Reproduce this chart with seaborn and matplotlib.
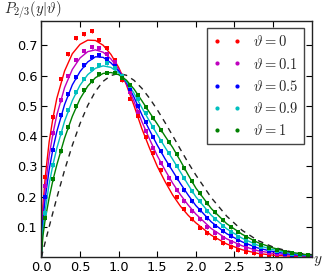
import matplotlib
matplotlib.use("Agg")
import matplotlib.pyplot as plt
import seaborn as sns
import pandas as pd
from matplotlib.lines import Line2D

# ---------------- data ----------------
theta_labels = ["0", "0.1", "0.5", "0.9", "1"]

y_grid = [0, 0.02, 0.05, 0.1, 0.15, 0.2, 0.3, 0.4, 0.5, 0.6, 0.7, 0.8, 0.9, 1.0,
          1.1, 1.2, 1.3, 1.4, 1.5, 1.6, 1.7, 1.8, 1.9, 2.0, 2.2, 2.4, 2.6, 2.8,
          3.0, 3.2, 3.4, 3.5]

curve_t0 = [0, 0.17, 0.265, 0.38, 0.46, 0.525, 0.615, 0.672, 0.703, 0.717, 0.716,
            0.70, 0.67, 0.627, 0.57, 0.50, 0.425, 0.36, 0.30, 0.25, 0.205, 0.168,
            0.138, 0.113, 0.072, 0.043, 0.024, 0.012, 0.006, 0.003, 0.001, 0.001]
curve_t01 = [0, 0.145, 0.23, 0.334, 0.409, 0.47, 0.56, 0.62, 0.658, 0.679, 0.685,
             0.677, 0.655, 0.621, 0.574, 0.514, 0.448, 0.39, 0.335, 0.288, 0.244,
             0.206, 0.172, 0.142, 0.094, 0.06, 0.037, 0.021, 0.012, 0.007, 0.003, 0.003]
curve_t05 = [0, 0.12, 0.195, 0.288, 0.358, 0.415, 0.504, 0.569, 0.613, 0.645, 0.662,
             0.66, 0.642, 0.615, 0.578, 0.528, 0.471, 0.419, 0.37, 0.325, 0.284,
             0.243, 0.205, 0.17, 0.116, 0.077, 0.05, 0.03, 0.018, 0.01, 0.005, 0.004]
curve_t09 = [0, 0.095, 0.155, 0.241, 0.306, 0.36, 0.449, 0.517, 0.568, 0.603, 0.624,
             0.632, 0.627, 0.609, 0.581, 0.541, 0.494, 0.449, 0.405, 0.363, 0.323,
             0.281, 0.239, 0.199, 0.138, 0.093, 0.062, 0.039, 0.024, 0.014, 0.007, 0.006]
curve_t1 = [0, 0.07, 0.125, 0.195, 0.255, 0.305, 0.393, 0.465, 0.523, 0.565, 0.593,
            0.607, 0.61, 0.603, 0.585, 0.555, 0.517, 0.478, 0.44, 0.40, 0.362,
            0.318, 0.272, 0.228, 0.16, 0.11, 0.075, 0.048, 0.03, 0.017, 0.009, 0.007]
curve_ref = [0, 0.02, 0.05, 0.0995, 0.148, 0.196, 0.287, 0.369, 0.441, 0.501, 0.548,
             0.581, 0.600, 0.607, 0.601, 0.584, 0.558, 0.525, 0.487, 0.445, 0.401,
             0.356, 0.312, 0.271, 0.196, 0.135, 0.088, 0.055, 0.033, 0.019, 0.010, 0.008]

y_bins = [0.05, 0.15, 0.25, 0.35, 0.45, 0.55, 0.65, 0.75, 0.85, 0.95, 1.05, 1.15,
          1.25, 1.35, 1.45, 1.55, 1.65, 1.75, 1.85, 1.95, 2.05, 2.15, 2.25, 2.35,
          2.45, 2.55, 2.65, 2.75, 2.85, 2.95, 3.05, 3.15, 3.25, 3.35, 3.45]

pts_t0 = [0.265, 0.463, 0.587, 0.672, 0.725, 0.738, 0.746, 0.716, 0.69, 0.65,
          0.585, 0.524, 0.465, 0.397, 0.345, 0.287, 0.24, 0.199, 0.16, 0.125,
          0.097, 0.08, 0.062, 0.045, 0.033, 0.024, 0.017, 0.012, 0.008, 0.006,
          0.004, 0.003, 0.002, 0.001, 0.001]
pts_t01 = [0.235, 0.41, 0.52, 0.6, 0.65, 0.68, 0.695, 0.69, 0.67, 0.645,
           0.60, 0.545, 0.48, 0.415, 0.36, 0.31, 0.262, 0.222, 0.185, 0.152,
           0.125, 0.1, 0.08, 0.064, 0.05, 0.04, 0.031, 0.023, 0.017, 0.013,
           0.01, 0.007, 0.005, 0.004, 0.003]
pts_t05 = [0.2, 0.355, 0.469, 0.54, 0.595, 0.635, 0.66, 0.668, 0.655, 0.63,
           0.598, 0.555, 0.5, 0.448, 0.398, 0.35, 0.305, 0.262, 0.222, 0.185,
           0.155, 0.128, 0.104, 0.085, 0.068, 0.055, 0.043, 0.034, 0.026, 0.02,
           0.015, 0.011, 0.008, 0.006, 0.004]
pts_t09 = [0.144, 0.305, 0.41, 0.485, 0.545, 0.59, 0.62, 0.635, 0.64, 0.625,
           0.598, 0.565, 0.522, 0.475, 0.43, 0.385, 0.345, 0.302, 0.26, 0.218,
           0.185, 0.152, 0.125, 0.102, 0.083, 0.067, 0.054, 0.042, 0.033, 0.026,
           0.02, 0.015, 0.011, 0.008, 0.006]
pts_t1 = [0.128, 0.257, 0.35, 0.43, 0.498, 0.551, 0.581, 0.606, 0.61, 0.61,
          0.593, 0.57, 0.535, 0.495, 0.46, 0.42, 0.38, 0.34, 0.295, 0.25,
          0.21, 0.178, 0.148, 0.122, 0.1, 0.084, 0.067, 0.052, 0.041, 0.031,
          0.024, 0.018, 0.013, 0.01, 0.007]

curves = [curve_t0, curve_t01, curve_t05, curve_t09, curve_t1]
points = [pts_t0, pts_t01, pts_t05, pts_t09, pts_t1]
err = 0.006

# ---------------- style ----------------
colors = ["#ff0000", "#bf00bf", "#0000ff", "#00bfbf", "#008000"]

sns.set_style("ticks")
plt.rcParams.update({
    "font.family": ["DejaVu Sans"],
    "mathtext.fontset": "cm",
    "xtick.direction": "in",
    "ytick.direction": "in",
    "xtick.top": True,
    "ytick.right": True,
    "xtick.major.size": 4,
    "ytick.major.size": 4,
    "axes.edgecolor": "#222222",
    "axes.linewidth": 1.0,
})

fig = plt.figure(figsize=(3.27, 2.74), dpi=100)
ax = fig.add_axes([0.1266, 0.062, 0.8266, 0.861])

rows = []
for lab, c in zip(theta_labels, curves):
    for x, v in zip(y_grid, c):
        rows.append({"y": x, "P": v, "theta": lab})
df = pd.DataFrame(rows)

sns.lineplot(data=df, x="y", y="P", hue="theta", palette=colors,
             estimator=None, sort=False, linewidth=1.0, legend=False, ax=ax)
sns.lineplot(x=y_grid, y=curve_ref, color="#222222", linewidth=1.0,
             dashes=False, ax=ax, legend=False)
ax.lines[-1].set_dashes((4, 3.5))

for c, p in zip(colors, points):
    ax.errorbar(y_bins, p, yerr=err, fmt="s", ms=2.6, color=c, ecolor=c,
                elinewidth=0.8, capsize=1.2, capthick=0.8, mew=0)

ax.set_xlim(0, 3.5)
ax.set_ylim(0, 0.78)
ax.set_xticks([0.0, 0.5, 1.0, 1.5, 2.0, 2.5, 3.0])
ax.set_xticklabels(["0.0", "0.5", "1.0", "1.5", "2.0", "2.5", "3.0"])
ax.set_yticks([0.1, 0.2, 0.3, 0.4, 0.5, 0.6, 0.7])
ax.set_yticklabels(["0.1", "0.2", "0.3", "0.4", "0.5", "0.6", "0.7"])
ax.tick_params(labelsize=9.3, colors="black", width=0.8, pad=3)
ax.set_xlabel("")
ax.set_ylabel("")

handles = [Line2D([], [], ls="none", marker=".", ms=4, color=c) for c in colors]
labels = [r"$\vartheta=%s$" % t for t in theta_labels]
leg = ax.legend(handles, labels, loc="upper right", bbox_to_anchor=(0.9726, 0.969),
                borderaxespad=0, numpoints=2, fontsize=10.5, frameon=True,
                fancybox=False, framealpha=1, edgecolor="#444444",
                handlelength=2.0, handletextpad=0.8, labelspacing=0.5, borderpad=0.4)
leg.get_frame().set_linewidth(1.0)

fig.text(4 / 327, 1 - 10 / 274, r"$P_{2/3}(y|\vartheta)$", ha="left", va="center",
         fontsize=10.5)
fig.text(313 / 327, 1 - 260 / 274, r"$y$", ha="left", va="center", fontsize=11)

fig.savefig("out.png", dpi=100)
